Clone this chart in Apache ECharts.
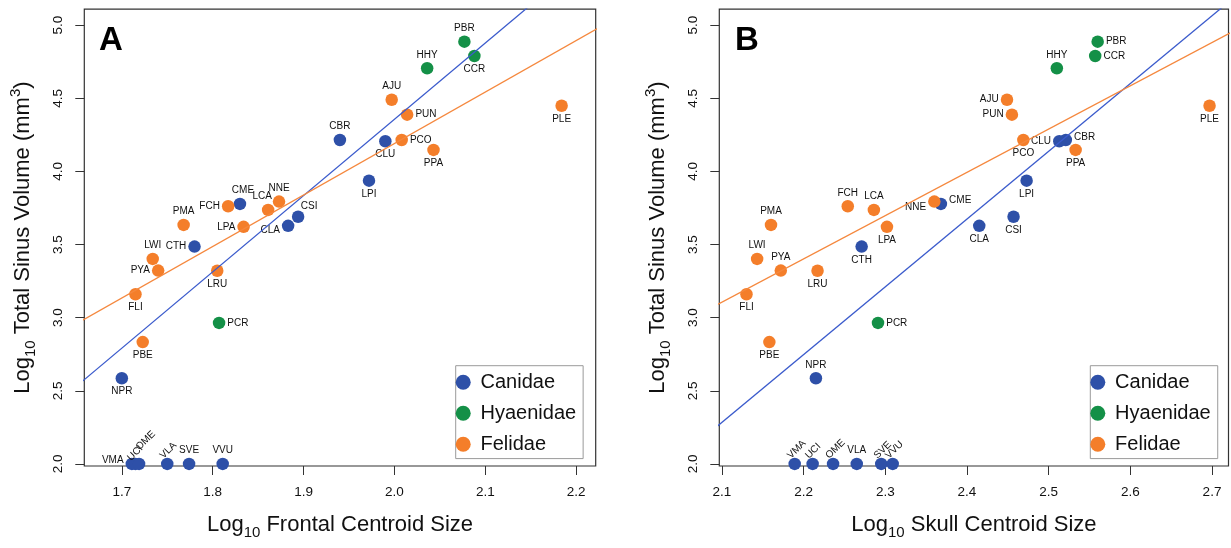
<!DOCTYPE html>
<html>
<head>
<meta charset="utf-8">
<script src="https://cdn.jsdelivr.net/npm/echarts@6/dist/echarts.min.js"></script>
<style>
html,body{margin:0;padding:0;background:#fff;}
#chart{width:1231px;height:548px;}
</style>
</head>
<body>
<div id="chart"></div>
<script>
// ---------------- data ----------------
const families = ['Canidae', 'Hyaenidae', 'Felidae'];

const canidaeNames   = ['CBR','CLU','LPI','CME','CSI','CLA','CTH','NPR','VMA','UCI','OME','VLA','SVE','VVU'];
const canidaeFrontal = [1.940,1.990,1.972,1.830,1.894,1.883,1.780,1.700,1.711,1.715,1.719,1.750,1.774,1.811];
const canidaeSkull   = [2.521,2.513,2.473,2.368,2.457,2.415,2.271,2.215,2.189,2.211,2.236,2.265,2.295,2.309];
const canidaeVolume  = [4.215,4.206,3.937,3.778,3.690,3.628,3.486,2.586,2.0,2.0,2.0,2.0,2.0,2.0];

const hyaenidaeNames   = ['PBR','CCR','HHY','PCR'];
const hyaenidaeFrontal = [2.077,2.088,2.036,1.807];
const hyaenidaeSkull   = [2.560,2.557,2.510,2.291];
const hyaenidaeVolume  = [4.887,4.789,4.705,2.964];

const felidaeNames   = ['AJU','PUN','PLE','PCO','PPA','NNE','LCA','FCH','PMA','LPA','LWI','PYA','LRU','FLI','PBE'];
const felidaeFrontal = [1.997,2.014,2.184,2.008,2.043,1.873,1.861,1.817,1.768,1.834,1.734,1.740,1.805,1.715,1.723];
const felidaeSkull   = [2.449,2.455,2.697,2.469,2.533,2.360,2.286,2.254,2.160,2.302,2.143,2.172,2.217,2.130,2.158];
const felidaeVolume  = [4.490,4.388,4.449,4.215,4.147,3.794,3.737,3.762,3.634,3.621,3.402,3.322,3.321,3.160,2.833];

// regression lines (clipped by the plot box)
const fitFrontalCanidae = [[1.65, 2.531], [2.25, 5.660]];
const fitFrontalFelidae = [[1.65, 2.959], [2.25, 5.070]];
const fitSkullCanidae   = [[2.09, 2.238], [2.73, 5.203]];
const fitSkullFelidae   = [[2.09, 3.077], [2.73, 4.970]];

const frontalTicks = [1.7, 1.8, 1.9, 2.0, 2.1, 2.2];
const skullTicks   = [2.1, 2.2, 2.3, 2.4, 2.5, 2.6, 2.7];
const volumeTicks  = [2.0, 2.5, 3.0, 3.5, 4.0, 4.5, 5.0];

// ---------------- styling ----------------
const FONT = "'Liberation Sans', Arial, Helvetica, sans-serif";
const colors = { Canidae: '#2e50a8', Hyaenidae: '#149047', Felidae: '#f47e2a' };
const lineColors = { Canidae: '#3b5bcc', Felidae: '#f5883e' };

const ROT = { position: 'top', rotate: 45, align: 'left', verticalAlign: 'middle', offset: [-5, -3] };
const labelsA = {
  CBR:{position:'top'}, CME:{position:'top',offset:[3,0]}, FCH:{position:'left'}, LCA:{position:'top',offset:[-6,0]},
  NNE:{position:'top'}, PMA:{position:'top'}, LPA:{position:'left'}, CLA:{position:'left',offset:[0,4]},
  CSI:{position:'top',offset:[11,3]}, CTH:{position:'left'}, LWI:{position:'top'}, PYA:{position:'left'},
  LRU:{position:'bottom'}, FLI:{position:'bottom'}, PCR:{position:'right'}, PBE:{position:'bottom'},
  NPR:{position:'bottom'}, VMA:{position:'left',offset:[0,-4]}, UCI:Object.assign({},ROT,{offset:[-7,-2]}), OME:Object.assign({},ROT,{offset:[4,-6]}), VLA:ROT,
  SVE:{position:'top'}, VVU:{position:'top'}, PBR:{position:'top'}, CCR:{position:'bottom'}, HHY:{position:'top'},
  AJU:{position:'top'}, PUN:{position:'right'}, PLE:{position:'bottom'}, CLU:{position:'bottom'},
  PCO:{position:'right'}, PPA:{position:'bottom'}, LPI:{position:'bottom'}
};
const labelsB = {
  FCH:{position:'top'}, LCA:{position:'top'}, PMA:{position:'top'}, LPA:{position:'bottom'},
  NNE:{position:'left',offset:[0,6]}, CME:{position:'right',offset:[0,-4]}, CTH:{position:'bottom'},
  LWI:{position:'top'}, PYA:{position:'top'}, LRU:{position:'bottom'}, FLI:{position:'bottom'},
  PCR:{position:'right'}, PBE:{position:'bottom'}, NPR:{position:'top'},
  VMA:ROT, UCI:ROT, OME:ROT, VLA:{position:'top'}, SVE:ROT, VVU:ROT,
  PBR:{position:'right'}, CCR:{position:'right'}, HHY:{position:'top'}, AJU:{position:'left'}, PUN:{position:'left'},
  PLE:{position:'bottom'}, PCO:{position:'bottom'}, CLU:{position:'left'}, CBR:{position:'right',offset:[0,-3]},
  PPA:{position:'bottom'}, LPI:{position:'bottom'}, CSI:{position:'bottom'}, CLA:{position:'bottom'}
};

function points(names, xs, ys, labels) {
  return names.map((n, i) => ({
    name: n,
    value: [xs[i], ys[i]],
    label: Object.assign({ show: true, distance: 2 }, labels[n] || {})
  }));
}

function scatter(name, idx, data) {
  return {
    type: 'scatter', name: name, xAxisIndex: idx, yAxisIndex: idx,
    symbol: 'circle', symbolSize: 12.5, data: data, z: 2,
    itemStyle: { color: colors[name], opacity: 1 },
    label: { show: true, formatter: '{b}', fontSize: 10, color: '#111', fontFamily: FONT },
    emphasis: { disabled: true }
  };
}
function fit(name, idx, data) {
  return {
    type: 'line', name: 'fit-' + name + idx, xAxisIndex: idx, yAxisIndex: idx,
    data: data, symbol: 'none', clip: true, z: 4,
    lineStyle: { color: lineColors[name], width: 1.3 },
    emphasis: { disabled: true }
  };
}

const tickFmt = v => Number(v).toFixed(1);

function xAxis(idx, min, max, ticks, title) {
  return {
    type: 'value', gridIndex: idx, min: min, max: max,
    axisLine: { show: false },
    axisTick: { show: true, inside: false, length: 9, customValues: ticks, lineStyle: { color: '#333', width: 1 } },
    axisLabel: { show: true, customValues: ticks, formatter: tickFmt, margin: 19, fontSize: 13.5, color: '#111', fontFamily: FONT },
    splitLine: { show: false },
    name: title, nameLocation: 'middle', nameGap: 44,
    nameTextStyle: {
      fontFamily: FONT, color: '#111',
      rich: {
        n: { fontSize: 22, lineHeight: 30, fontFamily: FONT, color: '#111' },
        sub: { fontSize: 15, lineHeight: 14, verticalAlign: 'bottom', fontFamily: FONT, color: '#111' }
      }
    }
  };
}
function yAxis(idx) {
  return {
    type: 'value', gridIndex: idx, min: 1.986, max: 5.109,
    axisLine: { show: false },
    axisTick: { show: true, inside: false, length: 9, customValues: volumeTicks, lineStyle: { color: '#333', width: 1 } },
    axisLabel: { show: true, customValues: volumeTicks, formatter: tickFmt, rotate: 90, margin: 19, fontSize: 13.5, color: '#111', fontFamily: FONT },
    splitLine: { show: false },
    name: '{n|Log}{sub|10}{n| Total Sinus Volume (mm}{sup|3}{n|)}',
    nameLocation: 'middle', nameGap: 46, nameRotate: 90,
    nameTextStyle: {
      fontFamily: FONT, color: '#111',
      rich: {
        n: { fontSize: 22, lineHeight: 30, fontFamily: FONT, color: '#111' },
        sub: { fontSize: 15, lineHeight: 14, verticalAlign: 'bottom', fontFamily: FONT, color: '#111' },
        sup: { fontSize: 15, lineHeight: 18, verticalAlign: 'top', fontFamily: FONT, color: '#111' }
      }
    }
  };
}
function legend(left) {
  return {
    data: families.map(f => ({ name: f, icon: 'circle' })),
    orient: 'vertical', left: left, top: 365.7,
    itemWidth: 24.6, itemHeight: 15, itemGap: 11,
    padding: [6.6, 7, 4.3, 0],
    borderColor: '#9a9a9a', borderWidth: 1, borderRadius: 0,
    backgroundColor: '#fff',
    selectedMode: false,
    textStyle: { fontSize: 20, lineHeight: 20, color: '#111', fontFamily: FONT }
  };
}

const chart = echarts.init(document.getElementById('chart'), null, { renderer: 'canvas' });
chart.setOption({
  animation: false,
  backgroundColor: '#fff',
  textStyle: { fontFamily: FONT },
  grid: [
    { left: 84.3, top: 9.2, width: 511.4, height: 456.8, show: true, borderColor: '#333', borderWidth: 1.2, backgroundColor: 'transparent', containLabel: false },
    { left: 719.3, top: 9.2, width: 509.2, height: 456.8, show: true, borderColor: '#333', borderWidth: 1.2, backgroundColor: 'transparent', containLabel: false }
  ],
  xAxis: [
    xAxis(0, 1.6587, 2.2215, frontalTicks, '{n|Log}{sub|10}{n| Frontal Centroid Size}'),
    xAxis(1, 2.0967, 2.7202, skullTicks, '{n|Log}{sub|10}{n| Skull Centroid Size}')
  ],
  yAxis: [yAxis(0), yAxis(1)],
  legend: [legend(455.7), legend(1090.3)],
  graphic: [
    { type: 'text', left: 99, top: 24, style: { text: 'A', font: 'bold 33px ' + FONT, fill: '#000' }, z: 10 },
    { type: 'text', left: 735, top: 24, style: { text: 'B', font: 'bold 33px ' + FONT, fill: '#000' }, z: 10 }
  ],
  series: [
    scatter('Canidae', 0, points(canidaeNames, canidaeFrontal, canidaeVolume, labelsA)),
    scatter('Hyaenidae', 0, points(hyaenidaeNames, hyaenidaeFrontal, hyaenidaeVolume, labelsA)),
    scatter('Felidae', 0, points(felidaeNames, felidaeFrontal, felidaeVolume, labelsA)),
    fit('Canidae', 0, fitFrontalCanidae),
    fit('Felidae', 0, fitFrontalFelidae),
    scatter('Canidae', 1, points(canidaeNames, canidaeSkull, canidaeVolume, labelsB)),
    scatter('Hyaenidae', 1, points(hyaenidaeNames, hyaenidaeSkull, hyaenidaeVolume, labelsB)),
    scatter('Felidae', 1, points(felidaeNames, felidaeSkull, felidaeVolume, labelsB)),
    fit('Canidae', 1, fitSkullCanidae),
    fit('Felidae', 1, fitSkullFelidae)
  ]
});
</script>
</body>
</html>
